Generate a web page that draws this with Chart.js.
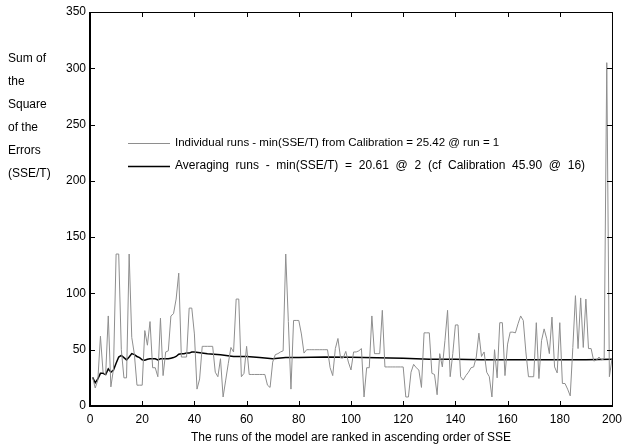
<!DOCTYPE html>
<html>
<head>
<meta charset="utf-8">
<script src="https://cdn.jsdelivr.net/npm/chart.js@4"></script>
<style>
  html, body { margin: 0; padding: 0; background: #fff; }
  #wrap { position: relative; width: 628px; height: 448px; }
</style>
</head>
<body>
<div id="wrap"><canvas id="sse" width="628" height="448"></canvas></div>
<script>
// SSE/T of each run, runs 1..200 ranked by SSE
const individualRuns = [
  25.4, 16, 23, 62, 30, 28, 80, 17, 33, 135,
  135, 50, 25, 25, 135, 61, 46, 18.5, 18.5, 18.5,
  67, 54, 75, 34, 34, 26, 78, 27, 48, 49,
  80, 82, 95, 118, 43.5, 43.5, 43.5, 87, 87, 64,
  15, 24, 53, 53, 53, 53, 53, 30, 26, 42,
  8, 23, 38, 52, 48, 95, 95, 26, 29, 53,
  28, 28, 28, 28, 28, 28, 28, 18.5, 16.5, 39,
  45.6, 46.5, 48, 49, 135, 75, 15, 76, 76, 76,
  64, 47, 50, 50, 50, 50, 50, 50, 50, 50,
  50, 34, 27, 51, 60, 42.6, 42.6, 48.5, 39, 32,
  48, 48, 49, 51, 8, 34, 34, 80, 46.5, 46.5,
  46.5, 85, 34.7, 34.7, 34.7, 34.7, 34.7, 34.7, 34.7, 34.7,
  8, 8, 30, 37, 34, 32, 16.5, 65, 65, 65,
  29, 28, 10, 46.5, 34.7, 58, 85, 26, 46.5, 72,
  72, 26, 23, 27, 30, 34, 34.7, 43.5, 64.7, 44,
  48, 30, 26, 8, 50, 25, 74, 74, 27, 55,
  65.6, 65.6, 65, 73, 80, 76, 48, 26, 26, 26,
  74, 24.4, 58, 68.5, 59.7, 46.5, 79, 34.7, 29.4, 74,
  20, 20, 15, 9, 52, 98, 51, 96, 52, 95,
  51, 51, 40, 40.6, 43.5, 41, 42, 305, 26, 42
];

// averaging curve
const avgRuns = [
  1, 2, 3, 4, 5, 6, 7, 8, 9, 10,
  11, 12, 13, 14, 15, 16, 17, 18, 19, 20,
  21, 22, 23, 24, 25, 26, 27, 28, 29, 30,
  31, 32, 33, 34, 35, 36, 37, 38, 39, 40,
  45, 50, 55, 60, 65, 70, 75, 80, 90, 100,
  110, 120, 130, 140, 150, 160, 170, 180, 190, 200
];
const avgValues = [
  25.4, 20.6, 24, 29, 29, 28, 33, 30, 32, 38,
  43.5, 45, 43, 41, 43.5, 46.5, 45.6, 44, 43, 41,
  40.6, 41.5, 42, 42, 42, 41, 42, 42, 42, 42,
  42.5, 43, 44, 46, 46.5, 46.5, 47, 47, 48, 48,
  46.5, 45.5, 44, 44, 43, 42, 43, 43, 43.5, 43.3,
  42.8, 42.5, 41.5, 41.5, 41, 41, 41, 41, 41, 41.5
];

const xTicks = [0, 20, 40, 60, 80, 100, 120, 140, 160, 180, 200];
const yTicks = [0, 50, 100, 150, 200, 250, 300, 350];
const yTitle = ['Sum of', 'the', 'Square', 'of the', 'Errors', '(SSE/T)'];
const xTitle = 'The runs of the model are ranked in ascending order of SSE';
const legendLabels = [
  'Individual runs - min(SSE/T) from Calibration = 25.42 @ run = 1',
  'Averaging runs - min(SSE/T) = 20.61 @ 2 (cf Calibration 45.90 @ 16)'
];

const GRAY = '#8e8e8e';
const FAMILY = '"Liberation Sans", Arial, sans-serif';
const FONT = '12px ' + FAMILY;

// frame, inward ticks, titles and legend
const decor = {
  id: 'decor',
  afterDatasetsDraw(chart) {
    const { ctx, chartArea: a, scales: { x, y } } = chart;
    ctx.save();
    ctx.strokeStyle = '#000';
    ctx.lineWidth = 1;
    ctx.beginPath();
    xTicks.forEach(v => {
      const px = Math.round(x.getPixelForValue(v)) + 0.5;
      ctx.moveTo(px, a.bottom); ctx.lineTo(px, a.bottom - 5);
      ctx.moveTo(px, a.top); ctx.lineTo(px, a.top + 5);
    });
    yTicks.forEach(v => {
      const py = Math.round(y.getPixelForValue(v)) + 0.5;
      ctx.moveTo(a.left, py); ctx.lineTo(a.left + 5, py);
      ctx.moveTo(a.right, py); ctx.lineTo(a.right - 5, py);
    });
    ctx.stroke();

    // box
    ctx.lineWidth = 1;
    ctx.beginPath();
    ctx.moveTo(a.left, a.top + 0.5); ctx.lineTo(a.right + 0.5, a.top + 0.5);
    ctx.lineTo(a.right + 0.5, a.bottom);
    ctx.stroke();
    ctx.lineWidth = 2;
    ctx.beginPath();
    ctx.moveTo(a.left, a.top); ctx.lineTo(a.left, a.bottom);
    ctx.lineTo(a.right + 1, a.bottom);
    ctx.stroke();

    ctx.fillStyle = '#000';
    ctx.font = FONT;
    ctx.textBaseline = 'middle';
    ctx.textAlign = 'left';
    yTitle.forEach((t, i) => ctx.fillText(t, 8, 59 + i * 23));

    ctx.textAlign = 'center';
    ctx.fillText(xTitle, (a.left + a.right) / 2, 438);

    // legend: two rows, sample line then label
    ctx.textAlign = 'left';
    const colors = [GRAY, '#000'];
    const widths = [1, 1.5];
    const sizes = [11.5, 12];
    const spacing = ['0px', '3.4px'];
    legendLabels.forEach((t, i) => {
      const ly = 143 + i * 23;
      ctx.strokeStyle = colors[i];
      ctx.lineWidth = widths[i];
      ctx.beginPath();
      ctx.moveTo(128, ly + 0.5); ctx.lineTo(170, ly + 0.5);
      ctx.stroke();
      ctx.font = sizes[i] + 'px ' + FAMILY;
      ctx.wordSpacing = spacing[i];
      ctx.fillText(t, 175, ly);
    });
    ctx.wordSpacing = '0px';
    ctx.restore();
  }
};

new Chart(document.getElementById('sse'), {
  type: 'line',
  data: {
    datasets: [
      {
        label: 'Individual runs',
        data: individualRuns.map((v, i) => ({ x: i + 1, y: v })),
        borderColor: GRAY,
        borderWidth: 1,
        pointRadius: 0,
        tension: 0
      },
      {
        label: 'Averaging runs',
        data: avgRuns.map((r, i) => ({ x: r, y: avgValues[i] })),
        borderColor: '#000',
        borderWidth: 1.5,
        pointRadius: 0,
        tension: 0
      }
    ]
  },
  options: {
    responsive: false,
    animation: false,
    layout: { padding: { left: 0, right: 12, top: 12, bottom: 0 } },
    plugins: { legend: { display: false }, tooltip: { enabled: false } },
    scales: {
      x: {
        type: 'linear',
        min: 0,
        max: 200,
        afterFit: s => { s.height = 42; },
        afterBuildTicks: s => { s.ticks = xTicks.map(v => ({ value: v })); },
        grid: { display: false, drawTicks: false },
        border: { display: false },
        ticks: { color: '#000', font: { family: FAMILY, size: 12 }, padding: 6, maxRotation: 0, autoSkip: false }
      },
      y: {
        min: 0,
        max: 350,
        afterFit: s => { s.width = 90; },
        afterBuildTicks: s => { s.ticks = yTicks.map(v => ({ value: v })); },
        grid: { display: false, drawTicks: false },
        border: { display: false },
        ticks: { color: '#000', font: { family: FAMILY, size: 12 }, padding: 4 }
      }
    }
  },
  plugins: [decor]
});
</script>
</body>
</html>
